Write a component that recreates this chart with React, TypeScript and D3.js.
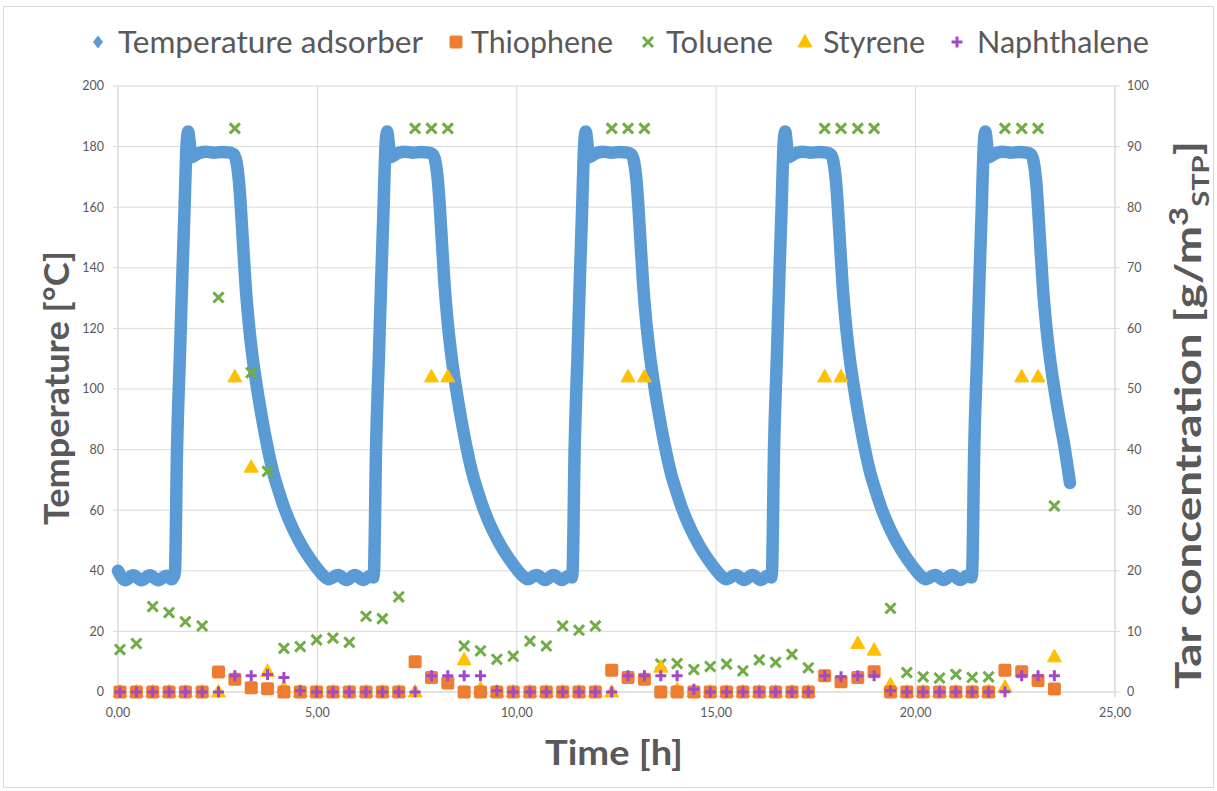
import React from "react";
import * as d3 from "d3";

// sample times of the tar measurements [h]
const sampleHours = [
  0.05, 0.46, 0.87, 1.28, 1.69, 2.11, 2.52, 2.93, 3.34, 3.75, 4.16, 4.57, 4.98, 5.39, 5.8, 6.22,
  6.63, 7.04, 7.45, 7.86, 8.27, 8.68, 9.09, 9.5, 9.91, 10.33, 10.74, 11.15, 11.56, 11.97, 12.38,
  12.79, 13.2, 13.61, 14.02, 14.44, 14.85, 15.26, 15.67, 16.08, 16.49, 16.9, 17.31, 17.72, 18.13,
  18.55, 18.96, 19.37, 19.78, 20.19, 20.6, 21.01, 21.42, 21.83, 22.24, 22.66, 23.07, 23.48,
];

// tar concentrations [g/m3 STP]
const thiophene = [
  0, 0, 0, 0, 0, 0, 3.3, 2.1, 0.7, 0.55, 0, 0, 0, 0, 0, 0, 0, 0, 5.0, 2.4, 1.5, 0, 0, 0, 0, 0, 0,
  0, 0, 0, 3.6, 2.4, 2.1, 0, 0, 0, 0, 0, 0, 0, 0, 0, 0, 2.7, 1.7, 2.4, 3.35, 0, 0, 0, 0, 0, 0, 0,
  3.6, 3.35, 1.9, 0.5,
];
const toluene = [
  7.0, 8.0, 14.1, 13.1, 11.6, 10.9, 65.1, 93, 52.7, 36.4, 7.2, 7.5, 8.6, 8.9, 8.2, 12.5, 12.1,
  15.7, 93, 93, 93, 7.6, 6.8, 5.4, 5.9, 8.4, 7.6, 10.9, 10.2, 10.9, 93, 93, 93, 4.6, 4.7, 3.7, 4.2,
  4.6, 3.5, 5.3, 4.9, 6.2, 4.0, 93, 93, 93, 93, 13.8, 3.2, 2.5, 2.3, 2.9, 2.4, 2.5, 93, 93, 93,
  30.7,
];
const styrene = [
  0, 0, 0, 0, 0, 0, 0, 52, 37.1, 3.4, 0.7, 0, 0, 0, 0, 0, 0, 0, 0, 52, 52, 5.3, 0.5, 0, 0, 0, 0,
  0, 0, 0, 0, 52, 52, 4.1, 0.4, 0, 0, 0, 0, 0, 0, 0, 0, 52, 52, 8.0, 6.9, 1.2, 0, 0, 0, 0, 0, 0,
  0.8, 52, 52, 5.8,
];
const naphthalene = [
  0, 0, 0, 0, 0, 0, 0, 2.7, 2.7, 2.9, 2.4, 0.2, 0, 0, 0, 0, 0, 0, 0, 2.7, 2.7, 2.7, 2.7, 0.2, 0,
  0, 0, 0, 0, 0, 0, 2.7, 2.7, 2.7, 2.7, 0.45, 0, 0, 0, 0, 0, 0, 0, 2.7, 2.5, 2.7, 2.7, 0.2, 0, 0,
  0, 0, 0, 0, 0.05, 2.7, 2.7, 2.7,
];

// temperature adsorber [h, °C], read per cycle
const tempCycle1: [number, number][] = [
  [0, 40], [0.18, 36.9], [0.38, 38.5], [0.59, 36.9], [0.8, 38.5], [1.01, 36.9], [1.22, 38.4],
  [1.34, 37.2], [1.41, 38.5], [1.43, 40], [1.48, 80], [1.55, 110], [1.62, 140], [1.67, 160],
  [1.71, 178], [1.74, 184], [1.76, 185], [1.8, 181], [1.84, 176.5], [1.92, 177], [2.05, 178],
  [2.2, 178.3], [2.4, 178], [2.6, 178.2], [2.8, 178], [2.9, 177.5], [2.97, 175], [3.03, 169],
  [3.08, 160], [3.13, 149], [3.2, 134], [3.27, 123], [3.37, 111], [3.49, 100], [3.61, 90.5],
  [3.73, 82], [3.9, 72], [4.05, 65.5], [4.19, 60], [4.4, 53.5], [4.6, 48.5], [4.8, 44.3],
  [5.0, 40.7], [5.15, 38.4], [5.28, 37.2], [5.52, 38.6], [5.73, 37], [5.94, 38.6], [6.15, 37],
  [6.33, 38.4], [6.4, 37.8],
];
const tempCycle2: [number, number][] = [
  [6.42, 40], [6.47, 80], [6.54, 110], [6.61, 140], [6.66, 160], [6.7, 178], [6.73, 184],
  [6.75, 185], [6.79, 181], [6.83, 176.5], [6.91, 177], [7.04, 178], [7.19, 178.3], [7.39, 178],
  [7.59, 178.2], [7.79, 178], [7.89, 177.5], [7.96, 175], [8.02, 169], [8.07, 160], [8.12, 149],
  [8.19, 134], [8.26, 123], [8.36, 111], [8.48, 100], [8.6, 90.5], [8.72, 82], [8.89, 72],
  [9.04, 65.5], [9.18, 60], [9.39, 53.5], [9.59, 48.5], [9.79, 44.3], [9.99, 40.7], [10.14, 38.4],
  [10.27, 37.2], [10.5, 38.6], [10.71, 37], [10.92, 38.6], [11.13, 37], [11.31, 38.4],
  [11.38, 37.8],
];
const tempCycle3: [number, number][] = [
  [11.4, 40], [11.45, 80], [11.52, 110], [11.59, 140], [11.64, 160], [11.68, 178], [11.71, 184],
  [11.73, 185], [11.77, 181], [11.81, 176.5], [11.89, 177], [12.02, 178], [12.17, 178.3],
  [12.37, 178], [12.57, 178.2], [12.77, 178], [12.87, 177.5], [12.94, 175], [13.0, 169],
  [13.05, 160], [13.1, 149], [13.17, 134], [13.24, 123], [13.34, 111], [13.46, 100],
  [13.58, 90.5], [13.7, 82], [13.87, 72], [14.02, 65.5], [14.16, 60], [14.37, 53.5],
  [14.57, 48.5], [14.77, 44.3], [14.97, 40.7], [15.12, 38.4], [15.25, 37.2], [15.49, 38.6],
  [15.7, 37], [15.91, 38.6], [16.12, 37], [16.3, 38.4], [16.38, 37.8],
];
const tempCycle4: [number, number][] = [
  [16.4, 40], [16.45, 80], [16.52, 110], [16.59, 140], [16.64, 160], [16.68, 178], [16.71, 184],
  [16.73, 185], [16.77, 181], [16.81, 176.5], [16.89, 177], [17.02, 178], [17.17, 178.3],
  [17.37, 178], [17.57, 178.2], [17.77, 178], [17.87, 177.5], [17.94, 175], [18.0, 169],
  [18.05, 160], [18.1, 149], [18.17, 134], [18.24, 123], [18.34, 111], [18.46, 100],
  [18.58, 90.5], [18.7, 82], [18.87, 72], [19.02, 65.5], [19.16, 60], [19.37, 53.5],
  [19.57, 48.5], [19.77, 44.3], [19.97, 40.7], [20.12, 38.4], [20.25, 37.2], [20.49, 38.6],
  [20.7, 37], [20.91, 38.6], [21.12, 37], [21.3, 38.4], [21.4, 37.8],
];
const tempCycle5: [number, number][] = [
  [21.42, 40], [21.47, 80], [21.54, 110], [21.61, 140], [21.66, 160], [21.7, 178], [21.73, 184],
  [21.75, 185], [21.79, 181], [21.83, 176.5], [21.91, 177], [22.04, 178], [22.19, 178.3],
  [22.39, 178], [22.59, 178.2], [22.79, 178], [22.89, 177.5], [22.96, 175], [23.02, 169],
  [23.07, 160], [23.12, 149], [23.19, 134], [23.26, 123], [23.36, 111], [23.48, 100],
  [23.6, 90.5], [23.72, 82], [23.87, 69],
];

const tempTicks = [0, 20, 40, 60, 80, 100, 120, 140, 160, 180, 200];
const concTicks = [0, 10, 20, 30, 40, 50, 60, 70, 80, 90, 100];
const hourTicks = [0, 5, 10, 15, 20, 25];

const colors = {
  temp: "#5B9BD5",
  thiophene: "#ED7D31",
  toluene: "#70AD47",
  styrene: "#FFC000",
  naphthalene: "#A349C8",
};
const textColor = "#595959";
const gridColor = "#d9d9d9";
const font = "Lato, 'Open Sans', sans-serif";

const Marker = ({ kind, color }: { kind: string; color: string }) => {
  if (kind === "diamond") return <path d="M0,-6.5L5,0L0,6.5L-5,0Z" fill={color} />;
  if (kind === "square")
    return <rect x={-6.5} y={-6.5} width={13} height={13} rx={2} fill={color} />;
  if (kind === "triangle")
    return (
      <path
        d="M0,-7.5L7,5L-7,5Z"
        fill={color}
        strokeLinejoin="round"
        stroke={color}
        strokeWidth={1}
      />
    );
  if (kind === "cross")
    return (
      <path d="M-4,-4L4,4M-4,4L4,-4" stroke={color} strokeWidth={3} strokeLinecap="square" />
    );
  return <path d="M-5.5,0H5.5M0,-5.5V5.5" stroke={color} strokeWidth={3} />;
};

export default function App() {
  const width = 1217;
  const height = 791;
  const left = 118,
    right = 1115,
    top = 86,
    bottom = 692;

  const x = d3.scaleLinear().domain([0, 25]).range([left, right]);
  const yT = d3.scaleLinear().domain([0, 200]).range([bottom, top]);
  const yC = d3.scaleLinear().domain([0, 100]).range([bottom, top]);

  const locale = d3.formatLocale({
    decimal: ",",
    thousands: ".",
    grouping: [3],
    currency: ["", "€"],
  });
  const fmtHour = locale.format(".2f");

  const temperature = [...tempCycle1, ...tempCycle2, ...tempCycle3, ...tempCycle4, ...tempCycle5];
  const tempLine = d3
    .line<[number, number]>()
    .x((d) => x(d[0]))
    .y((d) => yT(d[1]))
    .curve(d3.curveMonotoneX)(temperature);

  const scatter = (values: number[], kind: string, color: string) =>
    values.map((v, i) => (
      <g key={kind + i} transform={`translate(${x(sampleHours[i])},${yC(v)})`}>
        <Marker kind={kind} color={color} />
      </g>
    ));

  const legend = [
    { label: "Temperature adsorber", kind: "diamond", color: colors.temp, mx: 98, tx: 118, len: 305 },
    { label: "Thiophene", kind: "square", color: colors.thiophene, mx: 456, tx: 471, len: 142 },
    { label: "Toluene", kind: "cross", color: colors.toluene, mx: 648, tx: 666, len: 107 },
    { label: "Styrene", kind: "triangle", color: colors.styrene, mx: 805, tx: 823, len: 102 },
    { label: "Naphthalene", kind: "plus", color: colors.naphthalene, mx: 957, tx: 977, len: 172 },
  ];

  return (
    <svg
      width={width}
      height={height}
      style={{ position: "absolute", left: 0, top: 0, background: "#fff" }}
      fontFamily={font}
    >
      <rect x={3.5} y={6.5} width={1210} height={781} fill="#fff" stroke={gridColor} />

      {/* grid */}
      {tempTicks.map((t) => (
        <line key={"h" + t} x1={left} x2={right} y1={yT(t)} y2={yT(t)} stroke={gridColor} />
      ))}
      {hourTicks.map((t) => (
        <line key={"v" + t} x1={x(t)} x2={x(t)} y1={top} y2={bottom} stroke={gridColor} />
      ))}

      {/* axes */}
      <line x1={left} x2={left} y1={top} y2={bottom + 5} stroke={gridColor} />
      <line x1={right} x2={right} y1={top} y2={bottom + 5} stroke={gridColor} />
      <line x1={left} x2={right} y1={bottom} y2={bottom} stroke={gridColor} />
      {tempTicks.map((t) => (
        <g key={"lt" + t}>
          <line x1={left - 5} x2={left} y1={yT(t)} y2={yT(t)} stroke={gridColor} />
          <text x={left - 14} y={yT(t)} dy="0.35em" textAnchor="end" fontSize={12.5} fill={textColor}>
            {t}
          </text>
        </g>
      ))}
      {concTicks.map((t) => (
        <g key={"rt" + t}>
          <line x1={right} x2={right + 5} y1={yC(t)} y2={yC(t)} stroke={gridColor} />
          <text x={right + 12} y={yC(t)} dy="0.35em" textAnchor="start" fontSize={12.5} fill={textColor}>
            {t}
          </text>
        </g>
      ))}
      {hourTicks.map((t) => (
        <g key={"xt" + t}>
          <line x1={x(t)} x2={x(t)} y1={bottom} y2={bottom + 5} stroke={gridColor} />
          <text x={x(t)} y={bottom + 25} textAnchor="middle" fontSize={12.5} fill={textColor}>
            {fmtHour(t)}
          </text>
        </g>
      ))}

      {/* temperature */}
      <path
        d={tempLine ?? ""}
        fill="none"
        stroke={colors.temp}
        strokeWidth={12.5}
        strokeLinejoin="round"
        strokeLinecap="round"
      />

      {/* tar concentrations */}
      {scatter(toluene, "cross", colors.toluene)}
      {scatter(styrene, "triangle", colors.styrene)}
      {scatter(thiophene, "square", colors.thiophene)}
      {scatter(naphthalene, "plus", colors.naphthalene)}

      {/* legend */}
      {legend.map((l) => (
        <g key={l.label}>
          <g transform={`translate(${l.mx},42)`}>
            <Marker kind={l.kind} color={l.color} />
          </g>
          <text
            x={l.tx}
            y={53}
            fontSize={30}
            fill={textColor}
            textLength={l.len}
            lengthAdjust="spacingAndGlyphs"
          >
            {l.label}
          </text>
        </g>
      ))}

      {/* axis titles */}
      <text
        transform="translate(69,388) rotate(-90)"
        textAnchor="middle"
        fontSize={35}
        fontWeight="bold"
        fill={textColor}
        textLength={274}
        lengthAdjust="spacingAndGlyphs"
      >
        Temperature [°C]
      </text>
      <text
        transform="translate(1201,415) rotate(-90)"
        textAnchor="middle"
        fontSize={36}
        fontWeight="bold"
        fill={textColor}
        textLength={548}
        lengthAdjust="spacingAndGlyphs"
      >
        Tar concentration [g/m
        <tspan fontSize={26} dy={-13}>
          3
        </tspan>
        <tspan fontSize={23} dy={21}>
          STP
        </tspan>
        <tspan dy={-8}>]</tspan>
      </text>
      <text
        x={614}
        y={765}
        textAnchor="middle"
        fontSize={35}
        fontWeight="bold"
        fill={textColor}
        textLength={138}
        lengthAdjust="spacingAndGlyphs"
      >
        Time [h]
      </text>
    </svg>
  );
}
